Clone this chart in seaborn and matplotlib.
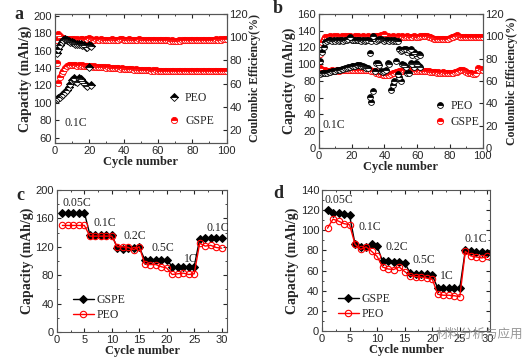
import matplotlib
matplotlib.use("Agg")
import matplotlib.pyplot as plt
import seaborn as sns
from matplotlib.ticker import MultipleLocator, AutoMinorLocator

# -------------------------
# Data
# -------------------------

# panel a : 0.1C cycling
a_gspe_cycle = list(range(1, 101))
a_gspe_cap = [146, 123, 130, 134, 137, 140, 142, 143, 143, 143,
              143, 143, 142, 143, 142, 143, 142, 142, 142, 142,
              142, 141, 142, 141, 141, 141, 141, 141, 141, 140,
              141, 140, 140, 140, 140, 140, 140, 139, 140, 139,
              139, 139, 139, 139, 139, 138, 139, 138, 138, 138,
              138, 138, 138, 138, 138, 137, 138, 137, 138, 137,
              137, 137, 137, 137, 137, 137, 137, 137, 137, 137,
              137, 137, 137, 137, 137, 136, 137, 137, 136, 137,
              136, 136, 137, 136, 136, 136, 136, 136, 136, 136,
              136, 136, 136, 136, 136, 136, 136, 136, 136, 136]
a_gspe_ce = [97.5, 103, 101, 99.5, 99, 98.5, 98.5, 98.5, 98, 98.5,
             98.5, 98, 98.5, 98, 98.5, 98.5, 98, 98.5, 98.5, 99,
             98.5, 98, 98, 98.5, 98, 98, 98.5, 98, 98, 98,
             98, 98, 98.5, 98, 98, 98, 98, 98.5, 98.5, 98,
             98, 98, 98.5, 98, 98, 98, 98, 98, 98.5, 98,
             98, 98, 98, 97.5, 98, 98, 97.5, 98, 98, 97.5,
             98, 97.5, 98, 98, 97.5, 97.5, 97, 97.5, 97, 97,
             97, 97.5, 97, 97.5, 97.5, 97.5, 97.5, 98, 97.5, 97.5,
             97.5, 97.5, 97.5, 97.5, 98, 97.5, 98, 97.5, 98, 98,
             98, 98, 98, 98.5, 98, 98.5, 98, 98.5, 98.5, 98.5]
a_peo_cycle = list(range(1, 22))
a_peo_cap = [104, 106, 107, 109, 110, 112, 115, 118, 122, 126,
             128, 125, 124, 128, 127, 125, 123, 121, 119, 141, 121]
a_peo_ce = [86, 90, 93, 95.5, 97.5, 98.5, 98, 97, 96, 95.5,
            95, 94.5, 94.5, 94, 94, 93.5, 93, 92, 91.5, 93, 92.5]

# panel b : 0.1C cycling
b_gspe_cycle = list(range(1, 101))
b_gspe_cap = [95.5, 93, 92, 92.5, 92, 91.5, 92, 92.5, 92, 92,
              92.5, 92, 92.5, 93, 92.5, 93, 93, 92.5, 93, 93,
              93, 93.5, 93, 93, 93.5, 93, 93, 92.5, 93, 92.5,
              92.5, 92, 92, 91.5, 90, 89, 88.5, 88, 87.5, 87,
              87.5, 88, 87.5, 88.5, 89, 89.5, 90.5, 91, 91.5, 92,
              92, 92.5, 92, 92.5, 92, 92.5, 92, 92, 92.5, 92,
              92, 92.5, 92, 91.5, 92, 91.5, 91.5, 91, 91, 90.5,
              90.5, 90, 90.5, 90, 90, 90.5, 89.5, 90, 89.5, 89,
              89.5, 90, 90.5, 91, 92, 93, 93.5, 92.5, 91.5, 91,
              90, 89.5, 89, 88.5, 88, 89, 95, 93, 94, 93]
b_gspe_ce = [84, 95, 98, 99, 99.5, 99.5, 100, 99.5, 100, 99.5,
             100, 99.5, 99.5, 100, 99.5, 100, 99.5, 100, 100, 99.5,
             99.5, 100, 99.5, 100, 99.5, 99.5, 100, 99.5, 99.5, 100,
             99.5, 99.5, 100, 99.5, 100, 100, 100.5, 101, 101.5, 102,
             100.5, 100, 99.5, 99.5, 100, 99.5, 99.5, 100, 99.5, 99.5,
             100, 99.5, 99.5, 100, 99.5, 99.5, 99.5, 100, 99.5, 99.5,
             99.5, 100, 100, 100.5, 100.5, 100, 99.5, 99, 98.5, 98,
             97.5, 98, 97.5, 97.5, 98, 97.5, 98, 97.5, 98, 98.5,
             99, 99.5, 100, 101, 100, 99.5, 99, 99, 99.5, 99,
             99, 99.5, 99, 99, 99.5, 99, 99, 99.5, 99, 99.5]
b_peo_cycle = list(range(1, 63))
b_peo_cap = [88, 89, 89.5, 90, 90, 90.5, 91, 91.5, 92, 92,
             92.5, 93, 93.5, 94, 94.5, 95, 96, 96.5, 97, 97.5,
             98, 98, 98.5, 99, 98.5, 98, 97.5, 97, 96, 95,
             61, 55, 68, 92, 101, 102, 99, 92, 91, 92,
             93, 101, 100, 69, 75, 80, 104, 88, 85, 80,
             100, 99, 97, 90, 89, 101, 100, 97, 102, 100,
             98, 97]
b_peo_ce = [78, 86, 90, 95, 96, 96.5, 96.5, 96, 96.5, 96,
            96.5, 96, 96.5, 96.5, 96, 96.5, 97, 97.5, 99, 97,
            96.5, 97, 96.5, 97, 96.5, 96, 96.5, 96, 97, 96.5,
            85, 96, 100.5, 98, 96, 96.5, 97.5, 98, 96.5, 96,
            97, 96.5, 96, 96.5, 96, 96.5, 96, 96, 88.5, 87,
            88, 88.5, 89, 86, 88, 89, 83, 86, 84, 82,
            84, 83]

# panels c, d : rate capability
rate_cycle = list(range(1, 31))
c_gspe = [168, 168, 168, 168, 168, 137, 137, 137, 137, 137,
          118, 117, 118, 118, 119, 102, 102, 102, 102, 102,
          92, 92, 92, 92, 92, 131, 132, 132, 132, 132]
c_peo = [150, 150, 150, 150, 150, 135, 135, 135, 135, 135,
         120, 120, 119, 116, 120, 96, 95, 95, 92, 90,
         81, 82, 83, 81, 82, 125, 121, 122, 119, 118]
d_gspe = [120, 117, 117, 116.5, 115, 86, 83, 83.5, 86.5, 84,
          69, 69, 68.5, 68, 67.5, 57.5, 56.5, 56.5, 56.5, 55.5,
          42.5, 42.5, 42.5, 42.5, 42.5, 80, 79, 78.5, 78, 77.5]
d_peo = [102, 111, 109, 106.5, 105.5, 86, 81, 83.5, 79, 74,
         63.5, 61.5, 61, 63.5, 59, 55, 54, 53.5, 52.5, 51.5,
         36.5, 35.5, 35.5, 35, 34, 79, 74.5, 73.5, 72.5, 74]

c_rate_labels = ["0.05C", "0.1C", "0.2C", "0.5C", "1C", "0.1C"]
c_rate_pos = [(3.6, 181), (8.8, 154), (14.1, 135), (19.3, 118), (24.4, 103), (29.3, 147)]
d_rate_labels = ["0.05C", "0.1C", "0.2C", "0.5C", "1C", "0.1C"]
d_rate_pos = [(3.1, 130), (8.7, 103), (13.6, 83), (18.4, 70), (22.7, 55), (27.9, 91)]

# -------------------------
# Style
# -------------------------

sns.set_style("ticks")
plt.rcParams['font.family'] = ['Liberation Sans', 'DejaVu Sans']
plt.rcParams['xtick.direction'] = 'in'
plt.rcParams['ytick.direction'] = 'in'
plt.rcParams['xtick.labelsize'] = 8
plt.rcParams['ytick.labelsize'] = 8
plt.rcParams['axes.edgecolor'] = '#555555'
plt.rcParams['axes.linewidth'] = 0.8
plt.rcParams['xtick.major.size'] = 3
plt.rcParams['ytick.major.size'] = 3
plt.rcParams['xtick.minor.size'] = 1.5
plt.rcParams['ytick.minor.size'] = 1.5
plt.rcParams['xtick.major.pad'] = 2
plt.rcParams['ytick.major.pad'] = 2

SERIF = ['Liberation Serif', 'DejaVu Serif']
RED = '#ff0000'

fig = plt.figure(figsize=(5.27, 3.59), dpi=100)


def half_marks(ax, x, y, marker, color, ms=4.5):
    sns.lineplot(x=x, y=y, ax=ax, marker=marker, linestyle='none',
                 color=color, markersize=ms, fillstyle='top',
                 markerfacecolor=color, markerfacecoloralt='white',
                 markeredgecolor=color, markeredgewidth=0.6,
                 estimator=None, legend=False)
    return ax.get_lines()[-1]


def label_axes(ax, xlabel, ylabel, ysize=10):
    ax.set_xlabel(xlabel, family=SERIF, fontweight='bold', fontsize=9, labelpad=0)
    ax.set_ylabel(ylabel, family=SERIF, fontweight='bold', fontsize=ysize, labelpad=1)


def cycling_panel(rect, gspe_x, gspe_cap, gspe_ce, peo_x, peo_cap, peo_ce,
                  peo_marker, ylim, ystep, y2lim, leg_anchor, leg_space):
    ax = fig.add_axes(rect)
    ax2 = ax.twinx()
    h_gspe = half_marks(ax, gspe_x, gspe_cap, 'o', RED)
    half_marks(ax2, gspe_x, gspe_ce, 'o', RED)
    h_peo = half_marks(ax, peo_x, peo_cap, peo_marker, 'black', 4.2)
    half_marks(ax2, peo_x, peo_ce, peo_marker, 'black', 4.2)
    ax.set_xlim(0, 100)
    ax.set_ylim(*ylim)
    ax2.set_ylim(*y2lim)
    ax.xaxis.set_major_locator(MultipleLocator(20))
    ax.yaxis.set_major_locator(MultipleLocator(ystep))
    ax2.yaxis.set_major_locator(MultipleLocator(20))
    ax.xaxis.set_minor_locator(AutoMinorLocator(2))
    ax.tick_params(top=True, which='both')
    label_axes(ax, "Cycle number", "Capacity (mAh/g)")
    ax2.set_ylabel("Coulombic Efficiency(%)", family=SERIF, fontweight='bold',
                   fontsize=8.5, labelpad=1)
    ax2.legend([h_peo, h_gspe], ["PEO", "GSPE"], loc='lower left',
               bbox_to_anchor=leg_anchor, frameon=False, handlelength=1.0,
               handletextpad=0.4, labelspacing=leg_space,
               prop={'family': SERIF, 'size': 8.5})
    return ax


def rate_panel(rect, gspe, peo, ylim, ystep, xmax, labels, positions, leg_anchor):
    ax = fig.add_axes(rect)
    sns.lineplot(x=rate_cycle, y=gspe, ax=ax, color='black', marker='D',
                 markersize=4.2, markeredgecolor='black', markerfacecolor='black',
                 linewidth=1.0, estimator=None, label='GSPE')
    sns.lineplot(x=rate_cycle, y=peo, ax=ax, color=RED, marker='o',
                 markersize=4.6, markeredgecolor=RED, markerfacecolor='none',
                 markeredgewidth=0.8, linewidth=1.0, estimator=None, label='PEO')
    ax.set_xlim(0, xmax)
    ax.set_ylim(*ylim)
    ax.xaxis.set_major_locator(MultipleLocator(5))
    ax.yaxis.set_major_locator(MultipleLocator(ystep))
    ax.xaxis.set_minor_locator(AutoMinorLocator(2))
    ax.yaxis.set_minor_locator(AutoMinorLocator(2))
    ax.tick_params(top=True, right=True, which='both')
    label_axes(ax, "Cycle number", "Capacity (mAh/g)")
    for txt, (px, py) in zip(labels, positions):
        ax.text(px, py, txt, family=SERIF, fontsize=8.5, ha='center', va='center')
    ax.legend(loc='lower left', bbox_to_anchor=leg_anchor, frameon=False,
              handlelength=1.8, handletextpad=0.2, labelspacing=0.3,
              prop={'family': SERIF, 'size': 8.5})
    return ax


# -------------------------
# Panels
# -------------------------

ax_a = cycling_panel([0.104, 0.602, 0.326, 0.359],
                     a_gspe_cycle, a_gspe_cap, a_gspe_ce,
                     a_peo_cycle, a_peo_cap, a_peo_ce, 'D',
                     (54, 202), 20, (9, 120), (0.6, 0.04), 0.9)
ax_a.text(12, 77, "0.1C", family=SERIF, fontsize=8.5, ha='center', va='center')

ax_b = cycling_panel([0.605, 0.588, 0.311, 0.373],
                     b_gspe_cycle, b_gspe_cap, b_gspe_ce,
                     b_peo_cycle, b_peo_cap, b_peo_ce, 'o',
                     (0, 160), 20, (0, 120), (0.64, 0.07), 0.3)
ax_b.text(9, 27, "0.1C", family=SERIF, fontsize=8.5, ha='center', va='center')

rate_panel([0.108, 0.075, 0.323, 0.396], c_gspe, c_peo, (0, 200), 40, 31,
           c_rate_labels, c_rate_pos, (0.03, 0.0))
rate_panel([0.611, 0.078, 0.319, 0.393], d_gspe, d_peo, (0, 140), 20, 30.5,
           d_rate_labels, d_rate_pos, (0.03, 0.0))

for letter, (fx, fy) in zip("abcd", [(0.035, 0.96), (0.527, 0.975),
                                    (0.038, 0.455), (0.528, 0.46)]):
    fig.text(fx, fy, letter, family=SERIF, fontweight='bold', fontsize=13,
             ha='center', va='center')

# watermark
fig.text(0.91, 0.068, "材料分析与应用", family=['Noto Sans CJK SC', 'DejaVu Sans'],
         fontsize=9, color='#8c8c8c', ha='center', va='center', alpha=0.9)

fig.savefig("out.png", dpi=100)
